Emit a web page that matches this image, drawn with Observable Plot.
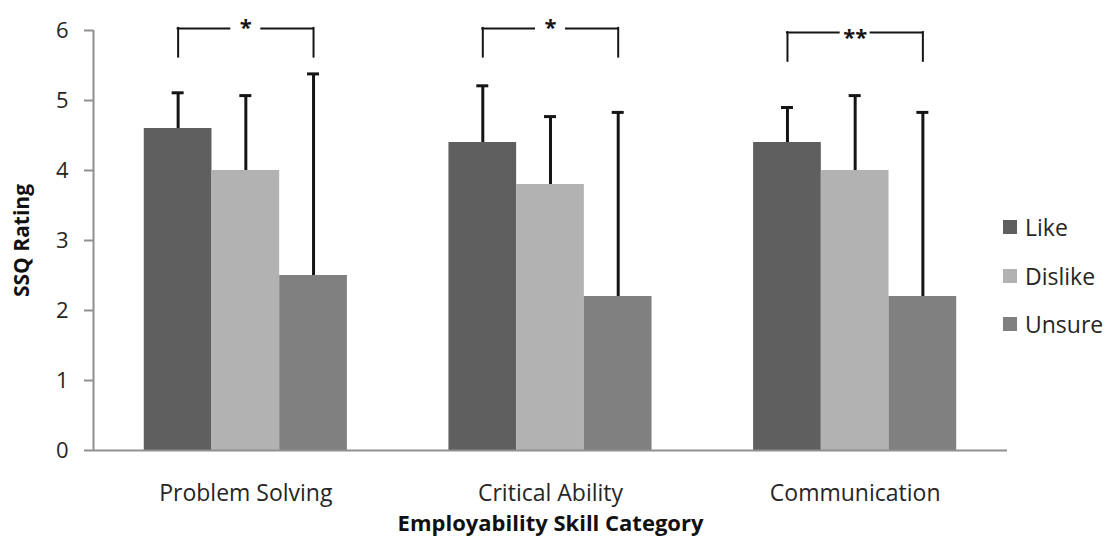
<!DOCTYPE html>
<html>
<head>
<meta charset="utf-8">
<script src="https://cdn.jsdelivr.net/npm/d3@7"></script>
<script src="https://cdn.jsdelivr.net/npm/@observablehq/plot@0.6"></script>
<style>
  body { margin: 0; background: #fff; font-family: "Open Sans", sans-serif; }
  #wrap { position: relative; width: 1111px; height: 543px; }
  #wrap svg { position: absolute; left: 0; top: 0; }
  #legend { position: absolute; left: 1003px; top: 203px; }
  .item { display: flex; align-items: center; height: 48.5px; font-size: 23px; color: #262626; }
  .swatch { width: 14px; height: 14px; margin-right: 8px; }
</style>
</head>
<body>
<div id="wrap"><div id="legend"></div></div>
<script>
// Mean SSQ rating per skill category for each group, with standard deviations
const categories = ["Problem Solving", "Critical Ability", "Communication"];
const seriesNames = ["Like", "Dislike", "Unsure"];
const likeMean = [4.6, 4.4, 4.4];
const dislikeMean = [4.0, 3.8, 4.0];
const unsureMean = [2.5, 2.2, 2.2];
const likeSD = [0.51, 0.81, 0.5];
const dislikeSD = [1.07, 0.97, 1.07];
const unsureSD = [2.88, 2.63, 2.63];
const yTicks = [0, 1, 2, 3, 4, 5, 6];

// Significance brackets (Like vs Unsure) for each category
const sigLabels = ["*", "*", "**"];
const sigTop = [6.03, 6.03, 5.97];
const sigBottom = [5.62, 5.62, 5.56];

const colors = ["#5f5f5f", "#b2b2b2", "#808080"];
const axisColor = "#909090";
const inkColor = "#151515";

// Each category spans one unit of x: three bars plus a gap 1.5 bars wide
const means = [likeMean, dislikeMean, unsureMean];
const sds = [likeSD, dislikeSD, unsureSD];
const slot = 1 / 4.5;
const barLeft = (i, j) => i + slot * (0.75 + j);
const barMid = (i, j) => barLeft(i, j) + slot / 2;

const table = categories.flatMap((c, i) => seriesNames.map((s, j) => ({
  category: c, series: s,
  x1: barLeft(i, j), x2: barLeft(i, j) + slot, xm: barMid(i, j),
  value: means[j][i], sd: sds[j][i]
})));

const brackets = categories.map((c, i) => ({
  category: c, label: sigLabels[i], top: sigTop[i], bottom: sigBottom[i],
  a: barMid(i, 0), b: barMid(i, 1), c: barMid(i, 2)
}));
const legs = brackets.flatMap(d => [
  {x: d.a, y1: d.bottom, y2: d.top},
  {x: d.c, y1: d.bottom, y2: d.top}
]);

const chart = Plot.plot({
  width: 1111,
  height: 543,
  marginLeft: 93,
  marginRight: 104,
  marginTop: 30,
  marginBottom: 93,
  style: {fontFamily: "'Open Sans', sans-serif", color: "#262626", background: "transparent", overflow: "visible"},
  x: {domain: [0, 3]},
  y: {domain: [0, 6]},
  color: {domain: seriesNames, range: colors},
  marks: [
    Plot.rectY(table, {x1: "x1", x2: "x2", y1: 0, y2: "value", fill: "series"}),
    // error bars (upper half only)
    Plot.ruleX(table, {x: "xm", y1: "value", y2: d => d.value + d.sd, stroke: inkColor, strokeWidth: 3}),
    Plot.ruleY(table, {x1: "xm", x2: "xm", y: d => d.value + d.sd, insetLeft: -6, insetRight: -6, stroke: inkColor, strokeWidth: 3}),
    // axis lines
    Plot.ruleX([0], {y1: 0, y2: 6, stroke: axisColor, strokeWidth: 2}),
    Plot.ruleY([0], {stroke: axisColor, strokeWidth: 2}),
    Plot.axisY({ticks: yTicks, tickFormat: d => String(d), tickSize: 9, tickPadding: 16, fontSize: 22, stroke: axisColor, strokeWidth: 2, label: null}),
    Plot.axisX({ticks: [0.5, 1.5, 2.5], tickFormat: v => categories[Math.floor(v)], tickSize: 0, tickPadding: 34, fontSize: 23, label: null}),
    // axis titles
    Plot.text(["SSQ Rating"], {frameAnchor: "left", dx: -71, rotate: -90, textAnchor: "middle", fontSize: 21, fontWeight: "bold", fill: "#111"}),
    Plot.text(["Employability Skill Category"], {frameAnchor: "bottom", dy: 80, fontSize: 22, fontWeight: "bold", fill: "#111"}),
    // significance brackets
    Plot.ruleX(legs, {x: "x", y1: "y1", y2: "y2", stroke: inkColor, strokeWidth: 2, strokeLinecap: "square"}),
    Plot.ruleY(brackets, {x1: "a", x2: "b", y: "top", insetRight: 16, stroke: inkColor, strokeWidth: 2, strokeLinecap: "square"}),
    Plot.ruleY(brackets, {x1: "b", x2: "c", y: "top", insetLeft: 16, stroke: inkColor, strokeWidth: 2, strokeLinecap: "square"}),
    Plot.text(brackets.filter(d => d.label.length === 1), {x: "b", y: "top", text: "label", fontSize: 22, fontWeight: "bold", fill: inkColor}),
    Plot.text(brackets.filter(d => d.label.length > 1), {x: "b", y: "top", text: "label", fontSize: 22, fontWeight: "bold", fill: inkColor, dy: 5})
  ]
});

const wrap = document.getElementById("wrap");
wrap.insertBefore(chart, wrap.firstChild);

// legend
const legend = document.getElementById("legend");
seriesNames.forEach((s, j) => {
  const item = document.createElement("div");
  item.className = "item";
  const sw = document.createElement("span");
  sw.className = "swatch";
  sw.style.background = colors[j];
  const lab = document.createElement("span");
  lab.textContent = s;
  item.appendChild(sw);
  item.appendChild(lab);
  legend.appendChild(item);
});
</script>
</body>
</html>
